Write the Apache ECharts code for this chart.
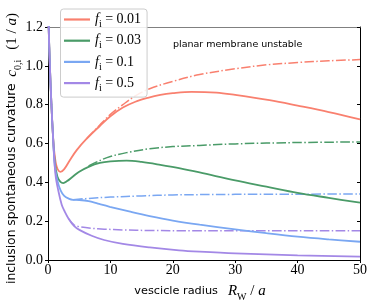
<!DOCTYPE html>
<html><head><meta charset="utf-8">
<script src="https://cdn.jsdelivr.net/npm/echarts@6/dist/echarts.min.js"></script>
<style>html,body{margin:0;padding:0;background:#fff}#c{width:374px;height:305px}</style>
</head><body><div id="c"></div>
<script>
const xTicks = [0, 10, 20, 30, 40, 50];
const yTicks = [0, 0.2, 0.4, 0.6, 0.8, 1.0, 1.2];
const legendNames = ['0.01', '0.03', '0.1', '0.5'];
const colors = ['#F9806F', '#4A9B68', '#7AA7F2', '#A388E6'];

const branch = [[0.06,1.25],[0.3,1.0],[0.55,0.8],[0.8,0.64]];
const redSolid = [[1.0,0.56],[1.4,0.48],[2.0,0.454],[2.6,0.468],[3.5,0.514],[4.6,0.566],[6.2,0.625],[8.3,0.69],[10,0.74],[12,0.785],[14,0.815],[16,0.835],[18,0.85],[20,0.859],[23,0.866],[27,0.862],[30,0.85],[35.5,0.823],[40,0.795],[45,0.762],[50,0.724]];
const redDash = [[6.2,0.625],[8.3,0.695],[10,0.75],[12,0.8],[14,0.845],[16.3,0.882],[20,0.92],[24.3,0.955],[30,0.985],[35,1.005],[40,1.017],[45,1.026],[50,1.032]];
const greenSolid = [[1.1,0.5],[1.5,0.43],[2.0,0.402],[2.45,0.396],[3,0.405],[4,0.43],[5,0.455],[6.5,0.48],[8.3,0.5],[10,0.508],[12.6,0.512],[15,0.505],[18,0.49],[21,0.473],[24.3,0.451],[30,0.41],[35,0.378],[40,0.346],[45,0.32],[50,0.295]];
const greenDash = [[6.5,0.485],[8.5,0.515],[10,0.533],[12.6,0.553],[16.3,0.573],[20,0.584],[24.3,0.59],[30,0.598],[40,0.605],[50,0.608]];
const blueSolid = [[1.1,0.48],[1.5,0.41],[2,0.36],[2.6,0.33],[3.4,0.315],[4,0.31],[5,0.309],[6.5,0.303],[8,0.29],[9.9,0.274],[13,0.25],[16.3,0.226],[20,0.203],[24.3,0.182],[30,0.158],[35,0.138],[40,0.12],[45,0.106],[50,0.094]];
const blueDash = [[4,0.31],[6,0.316],[10,0.324],[15,0.33],[20,0.335],[30,0.338],[40,0.339],[50,0.34]];
const purpleSolid = [[1.2,0.44],[1.7,0.35],[2.2,0.285],[2.6,0.255],[3.3,0.213],[4.2,0.175],[5.1,0.154],[7,0.125],[9,0.103],[12,0.083],[16.3,0.065],[21,0.05],[24.3,0.043],[30,0.034],[40,0.024],[50,0.017]];
const purpleDash = [[3.3,0.213],[4.2,0.18],[5.1,0.171],[7,0.163],[9,0.159],[12,0.155],[16.3,0.152],[25,0.151],[50,0.151]];

const solids = [redSolid, greenSolid, blueSolid, purpleSolid];
const dashes = [redDash, greenDash, blueDash, purpleDash];

const chart = echarts.init(document.getElementById('c'), null, {renderer: 'canvas'});
const series = [];
dashes.forEach((d, i) => {
  series.push({
    type: 'line', name: 'dash' + i, data: d, showSymbol: false, symbol: 'none',
    smooth: 0.35, clip: true,
    lineStyle: {color: colors[i], width: 1.5, type: [9.6, 2.4, 1.5, 2.4]},
    itemStyle: {color: colors[i]}, z: 2
  });
});
solids.forEach((d, i) => {
  series.push({
    type: 'line', name: legendNames[i], data: branch.concat(d), showSymbol: false, symbol: 'none',
    smooth: 0.35, clip: true,
    lineStyle: {color: colors[i], width: 1.8},
    itemStyle: {color: colors[i]}, z: 3
  });
});

const serif = '"Liberation Serif", "DejaVu Serif", serif';
const sans = '"DejaVu Sans", sans-serif';

chart.setOption({
  animation: false,
  backgroundColor: '#fff',
  grid: {left: 48, right: 14, top: 27, bottom: 45, containLabel: false},
  xAxis: [{
    type: 'value', min: 0, max: 50, interval: 10, position: 'bottom',
    axisLine: {onZero: false, lineStyle: {color: '#000', width: 1}},
    axisTick: {show: true, inside: false, length: 3, lineStyle: {color: '#000'}},
    axisLabel: {margin: 3, color: '#000', fontFamily: serif, fontSize: 14, formatter: v => String(v)},
    splitLine: {show: false}
  }, {
    type: 'value', min: 0, max: 50, interval: 10, position: 'top',
    axisLine: {show: true, onZero: false, lineStyle: {color: '#808080', width: 1.2}},
    axisTick: {show: false}, axisLabel: {show: false}, splitLine: {show: false}
  }],
  yAxis: [{
    type: 'value', min: 0, max: 1.2, interval: 0.2, position: 'left',
    axisLine: {show: true, onZero: false, lineStyle: {color: '#000', width: 1}},
    axisTick: {show: true, inside: false, length: 3, lineStyle: {color: '#000'}},
    axisLabel: {margin: 5, color: '#000', fontFamily: serif, fontSize: 14, formatter: v => v.toFixed(1)},
    splitLine: {show: false}
  }, {
    type: 'value', min: 0, max: 1.2, interval: 0.2, position: 'right',
    axisLine: {show: true, onZero: false, lineStyle: {color: '#000', width: 1}},
    axisTick: {show: true, inside: true, length: 3, lineStyle: {color: '#000'}},
    axisLabel: {show: false}, splitLine: {show: false}
  }],
  legend: {
    show: true, data: legendNames, left: 60.5, top: 9, orient: 'vertical',
    padding: [3.5, 6, 4, 3.5], itemGap: 4.2, itemWidth: 26, itemHeight: 2.2, icon: 'rect',
    backgroundColor: 'rgba(255,255,255,0.85)', borderColor: '#cccccc', borderWidth: 1, borderRadius: 3,
    formatter: n => '{f|f}{s|i}{t| = ' + n + '}',
    textStyle: {
      color: '#000', lineHeight: 14,
      rich: {
        f: {fontFamily: serif, fontStyle: 'italic', fontSize: 14, lineHeight: 14, color: '#000'},
        s: {fontFamily: serif, fontSize: 10, lineHeight: 14, verticalAlign: 'bottom', color: '#000', padding: [0, 0, -3, 0]},
        t: {fontFamily: serif, fontSize: 14, lineHeight: 14, color: '#000'}
      }
    }
  },
  graphic: [
    {type: 'text', left: 173, top: 40, z: 10,
      style: {text: 'planar membrane unstable', fontFamily: sans, fontSize: 9.5, fill: '#000'}},
    {type: 'text', x: 200, y: 291, z: 10,
      style: {
        text: '{t|vescicle radius}   {m|R}{s|W}{p| / }{m|a}', align: 'center', verticalAlign: 'middle',
        rich: {
          t: {fontFamily: sans, fontSize: 11.3, lineHeight: 18, fill: '#000'},
          m: {fontFamily: serif, fontStyle: 'italic', fontSize: 15, lineHeight: 18, fill: '#000'},
          p: {fontFamily: serif, fontSize: 15, lineHeight: 18, fill: '#000'},
          s: {fontFamily: serif, fontSize: 10, lineHeight: 18, verticalAlign: 'bottom', fill: '#000', padding: [0, 0, -2, 0]}
        }
      }},
    {type: 'text', x: 12, y: 148.5, rotation: Math.PI / 2, z: 10,
      style: {
        text: '{t|inclusion spontaneous curvature}  {m|c}{s|0,i}   {p|(1 / }{m|a}{p|)}', align: 'center', verticalAlign: 'middle',
        rich: {
          t: {fontFamily: sans, fontSize: 12.3, lineHeight: 18, fill: '#000'},
          m: {fontFamily: serif, fontStyle: 'italic', fontSize: 15, lineHeight: 18, fill: '#000'},
          p: {fontFamily: serif, fontSize: 15, lineHeight: 18, fill: '#000'},
          s: {fontFamily: serif, fontSize: 10, lineHeight: 18, verticalAlign: 'bottom', fill: '#000', padding: [0, 0, -2, 0]}
        }
      }}
  ],
  series: series
});
</script></body></html>
